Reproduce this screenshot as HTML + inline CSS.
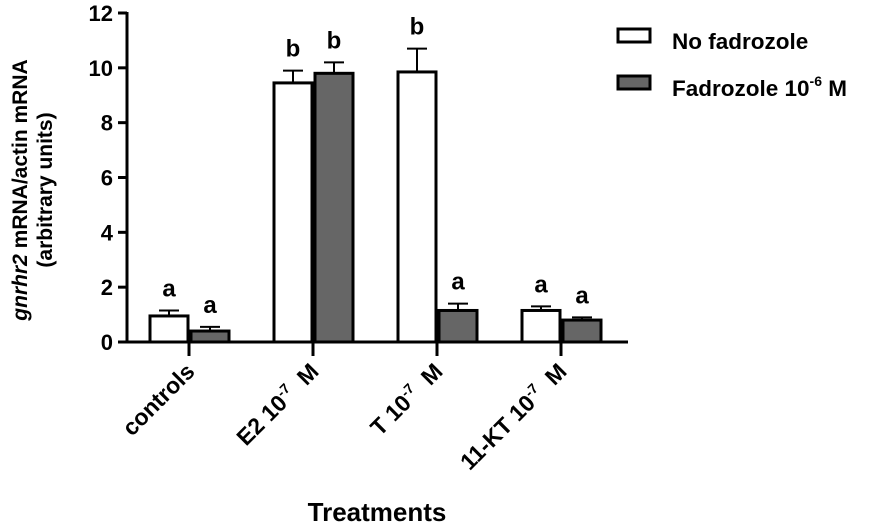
<!DOCTYPE html>
<html><head><meta charset="utf-8"><style>
html,body{margin:0;padding:0;background:#fff;}
svg{display:block;font-family:"Liberation Sans",Arial,sans-serif;font-weight:bold;}
</style></head><body>
<svg id="chart" width="886" height="525">
<g id="axes"></g><g id="bars"></g>
<g>
<rect x="618" y="29" width="32" height="13" fill="#fff" stroke="#000" stroke-width="3"/>
<text x="672" y="49" font-size="22.5">No fadrozole</text>
<rect x="618" y="76" width="32" height="13" fill="#666" stroke="#000" stroke-width="3"/>
<text x="672" y="96" font-size="22.5">Fadrozole 10<tspan dy="-10" font-size="14">-6</tspan><tspan dy="10"> M</tspan></text>
</g>
<text x="377" y="521" font-size="26" text-anchor="middle">Treatments</text>
<text transform="translate(27,190) rotate(-90)" font-size="21" text-anchor="middle"><tspan font-style="italic">gnrhr2</tspan> mRNA/actin mRNA</text>
<text transform="translate(52,190) rotate(-90)" font-size="21" text-anchor="middle">(arbitrary units)</text>
</svg>
<script>
const categories = ["controls","E2 10","T 10","11-KT 10"];
const noFad = [0.95, 9.45, 9.85, 1.15];
const noFadErr = [0.2, 0.45, 0.85, 0.15];
const fad = [0.4, 9.8, 1.15, 0.8];
const fadErr = [0.15, 0.4, 0.25, 0.1];
const noFadLetters = ["a","b","b","a"];
const fadLetters = ["a","b","a","a"];
const yTicks = [0,2,4,6,8,10,12];

const NS="http://www.w3.org/2000/svg";
const y0=342, yTop=13, yMax=12;
const ys=v=>y0-(v/yMax)*(y0-yTop);
const xc=i=>189+i*124;
function mk(tag,attrs,parent,txt){const e=document.createElementNS(NS,tag);for(const k in attrs)e.setAttribute(k,attrs[k]);if(txt!==undefined)e.textContent=txt;parent.appendChild(e);return e;}
const axes=document.getElementById('axes'), bars=document.getElementById('bars');
let el=mk('line',{x1:127,y1:yTop-1,x2:127,y2:y0+1.5,stroke:'#000','stroke-width':3},axes);


el=mk('line',{x1:125.5,y1:y0,x2:628,y2:y0,stroke:'#000','stroke-width':3},axes);


yTicks.forEach(t=>{
  let l=mk('line',{x1:118,y1:ys(t),x2:127,y2:ys(t),stroke:'#000','stroke-width':3},axes);
  
  
  let tx=mk('text',{x:113,y:ys(t)+8,'font-size':22,'text-anchor':'end'},axes,t);
  
  
});
categories.forEach((c,i)=>{
  const x=xc(i);
  let l=mk('line',{x1:x,y1:y0,x2:x,y2:356,stroke:'#000','stroke-width':3},axes);
  
  
  let tx=mk('text',{transform:`translate(${x+7},${373}) rotate(-45)`,'font-size':23,'text-anchor':'end'},axes);
  
  
  if(i===0){tx.textContent=c;}
  else{
    const a=document.createElementNS(NS,'tspan');a.textContent=c;tx.appendChild(a);
    mk('tspan',{dy:-9,'font-size':14},tx,'-7');
    mk('tspan',{dy:9},tx,'\u00a0 M');
  }
  [[noFad,noFadErr,noFadLetters,'#fff',x-40,'no-fadrozole'],[fad,fadErr,fadLetters,'#666',x+1,'fadrozole']].forEach(([v,e,L,fill,bx,nm])=>{
    const top=ys(v[i]), et=ys(v[i]+e[i]), mid=bx+20;
    let ln=mk('line',{x1:mid,y1:top,x2:mid,y2:et,stroke:'#000','stroke-width':2},bars);
    
    
    let cap=mk('line',{x1:mid-10,y1:et,x2:mid+10,y2:et,stroke:'#000','stroke-width':2},bars);
    
    
    let r=mk('rect',{x:bx+1,y:top,width:38,height:y0-top,fill:fill,stroke:'#000','stroke-width':3},bars);
    
    
    let t=mk('text',{x:mid,y:et-14,'font-size':24,'text-anchor':'middle'},bars,L[i]);
    
    
  });
});
</script>
</body></html>
